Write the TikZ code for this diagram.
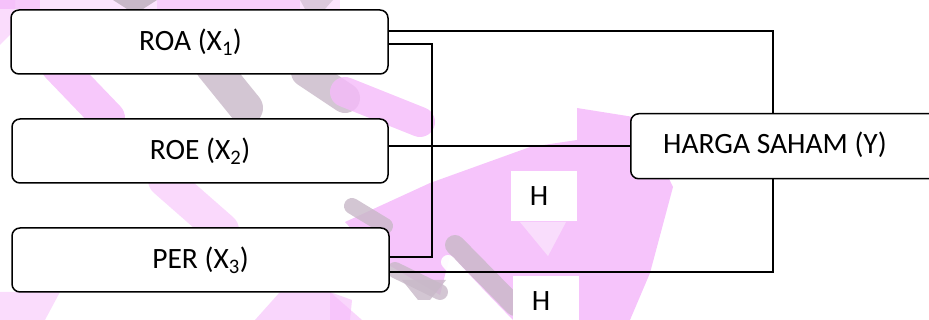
\documentclass[tikz,border=0pt]{standalone}
\usepackage{fontspec}
\setmainfont{Carlito}
\definecolor{wpink}{RGB}{245,186,250}
\definecolor{wgray}{RGB}{200,184,200}
\definecolor{wlight}{RGB}{251,228,253}
\tikzset{
  varbox/.style={draw=black, line width=1.5pt, rounded corners=8pt, fill=white,
    minimum width=377pt, minimum height=64pt, inner sep=0pt,
    font=\fontsize{29.5}{34}\selectfont},
  hbox/.style={fill=white, minimum width=66pt, minimum height=50pt, inner sep=0pt,
    font=\fontsize{29.5}{34}\selectfont},
  link/.style={draw=black, line width=1.5pt},
  wband/.style={line width=34pt, line cap=round, opacity=0.8},
}
\begin{document}
\begin{tikzpicture}[x=1pt,y=-1pt]
\useasboundingbox (0,0) rectangle (929,320);
\clip (0,0) rectangle (929,320);
% ---- watermark (approximate) ----
\fill[wlight] (0,0) rectangle (340,9);
\fill[wpink,opacity=0.6] (0,0) rectangle (40,9);
\fill[wpink,opacity=0.5] (157,0) rectangle (300,9);
\fill[wgray] (113,0) -- (157,0) -- (143,9) -- (127,9) -- cycle;
\fill[wgray, opacity=0.6] (300,0) -- (333,0) -- (325,9) -- (305,9) -- cycle;
\fill[wpink, opacity=0.5] (0,0) -- (15,0) -- (15,30) -- (0,45) -- cycle;
\draw[wband, wpink] (58,66) -- (108,118);
\draw[wband, wgray] (212,66) -- (246,108);
\draw[wband, wgray, line width=30pt] (306,72) -- (345,98);
\draw[wband, wpink, line width=30pt] (345,92) -- (420,122);
\draw[wband, wpink, opacity=0.55] (165,180) -- (222,230);
% centre
\fill[wpink, opacity=0.85] (345,222) -- (430,183) -- (530,147) -- (577,140) -- (577,108)
  -- (640,118) -- (673,187) -- (650,273) -- (630,320) -- (513,320) -- (450,255)
  -- (440,295) -- (380,260) -- cycle;
\fill[wlight, opacity=0.8] (520,222) -- (566,222) -- (548,256) -- cycle;
\draw[wband, wgray, line width=16pt] (352,206) -- (385,226);
\draw[wband, wgray, line width=16pt] (395,270) -- (440,292);
\draw[wband, wgray, line width=20pt] (455,245) -- (515,306);
\draw[wband, white, line width=14pt, opacity=0.95] (448,262) -- (500,318);
\fill[wpink, opacity=0.6] (255,320) -- (280,292) -- (330,292) -- (362,320) -- cycle;
\fill[wgray, opacity=0.8] (402,280) -- (446,280) -- (430,300) -- (418,300) -- cycle;
\fill[wpink, opacity=0.6] (330,292) -- (352,300) -- (350,320) -- (330,320) -- cycle;
\fill[wpink, opacity=0.5] (0,292) -- (60,292) -- (45,320) -- (0,320) -- cycle;
% ---- boxes ----
\node[varbox] (roa) at (199.5,42) {ROA (X\textsubscript{1})\kern18pt};
\node[varbox, minimum width=376pt] (roe) at (200,151) {ROE (X\textsubscript{2})};
\node[varbox] (per) at (200.5,260) {PER (X\textsubscript{3})};
\node[varbox, minimum width=340pt, minimum height=65pt, anchor=north west] (hy) at (630,113) {};
\node[anchor=base west, inner sep=0pt, font=\fontsize{29.5}{34}\selectfont] (hyt) at (663,154) {HARGA SAHAM (Y)};
\node[hbox] (h1) at (544,196) {H\kern10pt};
\node[hbox] (h2) at (546,301) {H\kern10pt};
% ---- connectors ----
\coordinate (k4) at (773,31);
\coordinate (k1) at (432,44);
\coordinate (k2) at (432,257);
\coordinate (k3) at (773,272);
\draw[link] (roa.east |- k4) -- (k4) -- (k4 |- hy.north);
\draw[link] (roa.east |- k1) -- (k1) -- (k2) -- (per.east |- k2);
\draw[link] (roe.east |- hy.west) -- (hy.west);
\draw[link] (per.east |- k3) -- (k3) -- (k3 |- hy.south);
\end{tikzpicture}
\end{document}
